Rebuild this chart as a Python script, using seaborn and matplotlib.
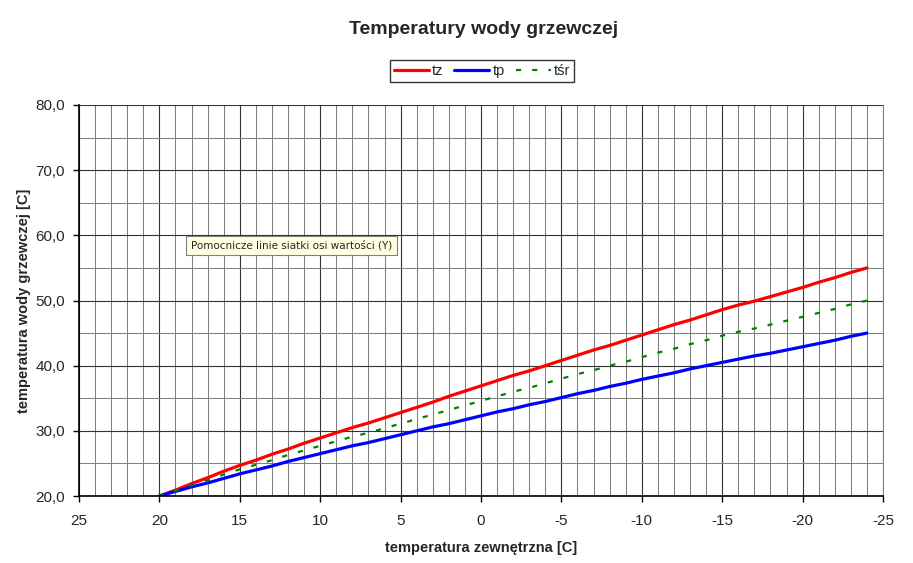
import matplotlib
matplotlib.use("Agg")
import matplotlib.pyplot as plt
from matplotlib.ticker import MultipleLocator, FuncFormatter
import seaborn as sns
import pandas as pd

# temperatura zewnetrzna, co 1 stopien od 20 do -24
t_zew = [20, 19, 18, 17, 16, 15, 14, 13, 12, 11, 10, 9, 8, 7, 6, 5, 4, 3, 2, 1, 0,
         -1, -2, -3, -4, -5, -6, -7, -8, -9, -10, -11, -12, -13, -14, -15, -16,
         -17, -18, -19, -20, -21, -22, -23, -24]

tz = [20.0, 20.9, 21.9, 22.8, 23.8, 24.7, 25.5, 26.4, 27.2, 28.1, 28.9, 29.7, 30.5,
      31.2, 32.0, 32.8, 33.6, 34.4, 35.3, 36.1, 36.9, 37.7, 38.5, 39.2, 40.0, 40.8,
      41.6, 42.4, 43.1, 43.9, 44.7, 45.5, 46.3, 47.0, 47.8, 48.6, 49.3, 49.9, 50.6,
      51.3, 52.0, 52.8, 53.5, 54.3, 55.0]

tp = [20.0, 20.7, 21.4, 22.0, 22.7, 23.4, 24.0, 24.6, 25.3, 25.9, 26.5, 27.1, 27.7,
      28.2, 28.8, 29.4, 30.0, 30.6, 31.1, 31.7, 32.3, 32.9, 33.4, 34.0, 34.5, 35.1,
      35.7, 36.2, 36.8, 37.3, 37.9, 38.4, 38.9, 39.5, 40.0, 40.5, 41.0, 41.5, 41.9,
      42.4, 42.9, 43.4, 43.9, 44.5, 45.0]

tsr = [20.0, 20.8, 21.7, 22.4, 23.3, 24.1, 24.8, 25.5, 26.3, 27.0, 27.7, 28.4, 29.1,
       29.7, 30.4, 31.1, 31.8, 32.5, 33.2, 33.9, 34.6, 35.3, 36.0, 36.6, 37.3, 38.0,
       38.7, 39.3, 40.0, 40.6, 41.3, 42.0, 42.6, 43.3, 43.9, 44.6, 45.2, 45.7, 46.3,
       46.9, 47.5, 48.1, 48.7, 49.4, 50.0]

df = pd.DataFrame({"t": t_zew, "tz": tz, "tp": tp, "tśr": tsr})

sns.set_style("white")
plt.rcParams['font.family'] = ['Liberation Sans', 'DejaVu Sans']
plt.rcParams['axes.unicode_minus'] = False

fig = plt.figure(figsize=(9.13, 5.63), dpi=100)
ax = fig.add_axes([79/913, 1 - 496/563, (883 - 79)/913, (496 - 105)/563])

sns.lineplot(data=df, x="t", y="tz", ax=ax, color="#FF0000", lw=2.3, label="tz")
sns.lineplot(data=df, x="t", y="tp", ax=ax, color="#0000FF", lw=2.3, label="tp")
sns.lineplot(data=df, x="t", y="tśr", ax=ax, color="#008000", lw=1.6, label="tśr")
ax.lines[2].set_dashes((2.3, 5.0))

ax.set_xlim(25, -25)
ax.set_ylim(20, 80)
ax.xaxis.set_major_locator(MultipleLocator(5))
ax.xaxis.set_minor_locator(MultipleLocator(1))
ax.yaxis.set_major_locator(MultipleLocator(10))
ax.yaxis.set_minor_locator(MultipleLocator(5))
ax.yaxis.set_major_formatter(FuncFormatter(lambda v, p: f"{v:.1f}".replace(".", ",")))
ax.xaxis.set_major_formatter(FuncFormatter(lambda v, p: f"{v:.0f}"))

ax.grid(which="minor", color="#808080", lw=0.75)
ax.grid(which="major", color="#333333", lw=0.8)
ax.set_axisbelow(True)

for s in ["left", "bottom"]:
    ax.spines[s].set_color("black")
    ax.spines[s].set_linewidth(1.2)
ax.spines["top"].set_visible(False)
ax.spines["right"].set_color("#808080")
ax.spines["right"].set_linewidth(0.75)
ax.tick_params(axis="both", which="major", direction="out", length=4, width=1,
               labelsize=11, left=True, bottom=True, color="black")
ax.tick_params(axis="x", which="major", pad=9)
ax.tick_params(axis="y", which="major", pad=6)
ax.tick_params(axis="both", which="minor", length=0)

ax.set_xlabel("temperatura zewnętrzna [C]", fontsize=10.5, fontweight="bold", labelpad=9)
ax.set_ylabel("temperatura wody grzewczej [C]", fontsize=10.5, fontweight="bold", labelpad=3)

fig.text(0.53, 1 - 30/563, "Temperatury wody grzewczej", ha="center", va="center",
         fontsize=14, fontweight="bold")

leg = ax.legend(loc="center", bbox_to_anchor=(482/913, 1 - 71/563),
                bbox_transform=fig.transFigure, ncol=3, frameon=True, fancybox=False,
                fontsize=10.5, handlelength=2.4, handletextpad=0.2, columnspacing=0.75,
                borderpad=0.3, borderaxespad=0)
leg.get_frame().set_edgecolor("black")
leg.get_frame().set_linewidth(1.0)

fig.text(191/913, 1 - 245.5/563, "Pomocnicze linie siatki osi wartości (Y)", ha="left",
         va="center", fontsize=7.5, family=["DejaVu Sans"],
         bbox=dict(boxstyle="square,pad=0.45", fc="#FFFFE1", ec="#808080", lw=0.8))

fig.savefig("out.png", dpi=100, facecolor="white")
